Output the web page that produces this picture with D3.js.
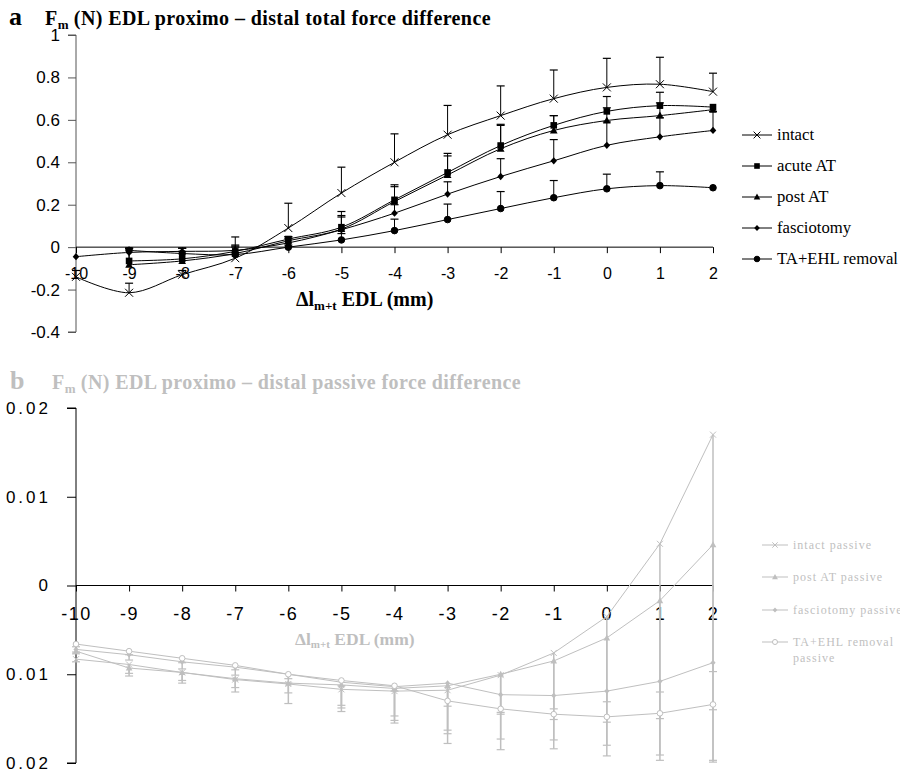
<!DOCTYPE html>
<html>
<head>
<meta charset="utf-8">
<script src="https://cdn.jsdelivr.net/npm/d3@7"></script>
<style>
  html, body { margin: 0; padding: 0; background: #fff; }
  svg { display: block; }
</style>
</head>
<body>
<svg id="chart" width="900" height="775"></svg>
<script>
// ---------- DATA ----------
const xCategories = [-10, -9, -8, -7, -6, -5, -4, -3, -2, -1, 0, 1, 2];
const xTickLabels = ["-10", "-9", "-8", "-7", "-6", "-5", "-4", "-3", "-2", "-1", "0", "1", "2"];

// Panel a: total force difference (N)
const yTicksA = [1, 0.8, 0.6, 0.4, 0.2, 0, -0.2, -0.4];
const yTickLabelsA = ["1", "0.8", "0.6", "0.4", "0.2", "0", "-0.2", "-0.4"];
const seriesNamesA = ["intact", "acute AT", "post AT", "fasciotomy", "TA+EHL removal"];
const intact      = [-0.14, -0.215, -0.13, -0.052, 0.09, 0.255, 0.40, 0.53, 0.62, 0.70, 0.753, 0.768, 0.733];
const intactErr   = [0.03, 0.045, 0.02, 0.10, 0.117, 0.122, 0.134, 0.138, 0.14, 0.135, 0.137, 0.127, 0.087];
const acuteAT     = [null, -0.065, -0.055, -0.02, 0.038, 0.094, 0.223, 0.352, 0.479, 0.574, 0.64, 0.667, 0.66];
const acuteATErr  = [null, 0.06, 0.05, 0.03, 0.01, 0.074, 0.071, 0.09, 0.1, 0.046, 0.07, 0.063, 0];
const postAT      = [null, -0.083, -0.065, -0.03, 0.03, 0.085, 0.215, 0.34, 0.464, 0.55, 0.597, 0.62, 0.648];
const postATErr   = [null, 0.075, 0.06, 0.03, 0.02, 0.064, 0.07, 0.09, 0.11, 0.07, 0.06, 0.06, 0];
const fasciotomy  = [-0.045, -0.025, -0.02, -0.015, 0.02, 0.082, 0.16, 0.25, 0.333, 0.407, 0.48, 0.52, 0.55];
const fasciotomyErr = [0, 0.02, 0.015, 0.02, 0.02, 0.06, 0.04, 0.058, 0.084, 0.1, 0.11, 0.09, 0.09];
const taEhl       = [null, -0.015, -0.03, -0.035, 0.0, 0.034, 0.078, 0.13, 0.182, 0.233, 0.275, 0.29, 0.28];
const taEhlErr    = [null, 0.01, 0.01, 0.01, 0.01, 0.03, 0.054, 0.073, 0.08, 0.081, 0.069, 0.065, 0];

// Panel b: passive force difference (N)
const yTicksB = [0.02, 0.01, 0, -0.01, -0.02];
const yTickLabelsB = ["0.02", "0.01", "0", "0.01", "0.02"];
const seriesNamesB = ["intact passive", "post AT passive", "fasciotomy passive", "TA+EHL removal passive"];
const intactPassive     = [-0.0083, -0.0089, -0.0098, -0.0106, -0.0111, -0.0117, -0.0119, -0.0118, -0.0101, -0.0076, -0.0035, 0.0047, 0.0170];
const intactPassiveErr  = [0.0003, 0.0013, 0.0012, 0.0014, 0.0022, 0.0021, 0.0033, 0.006, 0.0084, 0.0108, 0.0157, 0.0244, 0.0369];
const postATPassive     = [-0.0074, -0.0093, -0.0098, -0.0105, -0.0110, -0.0112, -0.0116, -0.0113, -0.0100, -0.0085, -0.0059, -0.0017, 0.0046];
const postATPassiveErr  = [0.0003, 0.0006, 0.0009, 0.001, 0.0011, 0.0023, 0.0031, 0.0054, 0.0073, 0.0089, 0.0121, 0.0174, 0.0243];
const fasciotomyPassive    = [-0.0072, -0.0078, -0.0086, -0.0092, -0.0100, -0.0109, -0.0114, -0.0110, -0.0123, -0.0124, -0.0119, -0.0108, -0.0087];
const fasciotomyPassiveErr = [0.0003, 0.0006, 0.0008, 0.0009, 0.001, 0.0033, 0.0041, 0.0053, 0.002, 0.0015, 0.0012, 0.0012, 0.001];
const taEhlPassive      = [-0.0066, -0.0074, -0.0082, -0.0090, -0.0100, -0.0107, -0.0113, -0.0130, -0.0139, -0.0145, -0.0148, -0.0144, -0.0134];
const taEhlPassiveErr   = [0.0003, 0.0004, 0.0005, 0.0005, 0.0005, 0.0006, 0.0006, 0.0006, 0.0006, 0.0006, 0.0006, 0.0006, 0.0006];

// ---------- DRAW ----------
const svg = d3.select("#chart");
const serif = "'Liberation Serif', 'Times New Roman', serif";
const sans = "'Liberation Sans', Arial, sans-serif";
const grayB = "#bfbfbf";

const x = d3.scaleLinear().domain([-10, 2]).range([76, 713]);

function marker(g, type, cx, cy, size, color, fillOpen) {
  const s = size;
  if (type === "x") {
    g.append("path").attr("d", `M${cx - s},${cy - s}L${cx + s},${cy + s}M${cx - s},${cy + s}L${cx + s},${cy - s}`)
      .attr("stroke", color).attr("stroke-width", 1).attr("fill", "none");
  } else if (type === "square") {
    g.append("rect").attr("x", cx - s).attr("y", cy - s).attr("width", 2 * s).attr("height", 2 * s).attr("fill", color);
  } else if (type === "triangle") {
    g.append("path").attr("d", `M${cx},${cy - s * 1.15}L${cx + s * 1.1},${cy + s * 0.85}L${cx - s * 1.1},${cy + s * 0.85}Z`).attr("fill", color);
  } else if (type === "diamond") {
    g.append("path").attr("d", `M${cx},${cy - s * 1.1}L${cx + s},${cy}L${cx},${cy + s * 1.1}L${cx - s},${cy}Z`).attr("fill", color);
  } else if (type === "circle") {
    g.append("circle").attr("cx", cx).attr("cy", cy).attr("r", s)
      .attr("fill", fillOpen ? "#fff" : color).attr("stroke", color).attr("stroke-width", 1);
  }
}

// ===== Panel a =====
const yA = d3.scaleLinear().domain([-0.4, 1]).range([332, 35]);
const gA = svg.append("g");

// title a
const tA = gA.append("text").attr("x", 9).attr("y", 25).attr("font-family", serif).attr("font-weight", "bold").attr("fill", "#000");
tA.append("tspan").attr("font-size", 26).text("a");
tA.append("tspan").attr("x", 45).attr("font-size", 20).attr("letter-spacing", "0.4px").text("F");
tA.append("tspan").attr("font-size", 13).attr("dy", 4).text("m");
tA.append("tspan").attr("font-size", 20).attr("letter-spacing", "0.4px").attr("dy", -4).text(" (N) EDL proximo – distal total force difference");

// y axis a
const yAxisA = d3.axisLeft(yA).tickValues(yTicksA).tickSize(8).tickPadding(8)
  .tickFormat((d, i) => yTickLabelsA[i]);
const gyA = gA.append("g").attr("transform", "translate(76,0)").call(yAxisA);
gyA.select(".domain").attr("stroke", "#555").attr("d", `M-8,${yA(1)}H0V${yA(-0.4)}H-8`);
gyA.selectAll(".tick line").attr("stroke", "#555");
gyA.selectAll("text").attr("font-family", sans).attr("font-size", 17).attr("fill", "#000");

// x axis a at y=0
const xAxisA = d3.axisBottom(x).tickValues(xCategories).tickSize(6).tickPadding(14).tickFormat((d, i) => xTickLabels[i]);
const gxA = gA.append("g").attr("transform", `translate(0,${yA(0)})`).call(xAxisA);
gxA.select(".domain").attr("stroke", "#000").attr("d", `M${x(-10)},0H${x(2)}`);
gxA.selectAll(".tick line").attr("stroke", "#000");
gxA.selectAll("text").attr("font-family", sans).attr("font-size", 16).attr("fill", "#000");

// x label a
const xlA = gA.append("text").attr("x", 296).attr("y", 306).attr("font-family", serif).attr("font-weight", "bold").attr("fill", "#000");
xlA.append("tspan").attr("font-size", 20).text("Δl");
xlA.append("tspan").attr("font-size", 13).attr("dy", 4).text("m+t");
xlA.append("tspan").attr("font-size", 20).attr("dy", -4).text(" EDL (mm)");

const seriesA = [
  { name: seriesNamesA[0], vals: intact, err: intactErr, m: "x", s: 4 },
  { name: seriesNamesA[1], vals: acuteAT, err: acuteATErr, m: "square", s: 3.3 },
  { name: seriesNamesA[2], vals: postAT, err: postATErr, m: "triangle", s: 3.5 },
  { name: seriesNamesA[3], vals: fasciotomy, err: fasciotomyErr, m: "diamond", s: 3.3 },
  { name: seriesNamesA[4], vals: taEhl, err: taEhlErr, m: "circle", s: 3.3 }
];

const lineA = d3.line().defined(d => d.v !== null).x(d => x(d.x)).y(d => yA(d.v)).curve(d3.curveCatmullRom.alpha(0.5));

// error bars (upward)
seriesA.forEach(sr => {
  const g = gA.append("g");
  sr.vals.forEach((v, i) => {
    const e = sr.err[i];
    if (v === null || !e) return;
    const cx = x(xCategories[i]);
    g.append("line").attr("x1", cx).attr("x2", cx).attr("y1", yA(v)).attr("y2", yA(v + e)).attr("stroke", "#000").attr("stroke-width", 1);
    g.append("line").attr("x1", cx - 4).attr("x2", cx + 4).attr("y1", yA(v + e)).attr("y2", yA(v + e)).attr("stroke", "#000").attr("stroke-width", 1.2);
  });
});
// lines + markers
seriesA.forEach(sr => {
  const pts = sr.vals.map((v, i) => ({ x: xCategories[i], v }));
  gA.append("path").datum(pts.filter(p => p.v !== null)).attr("d", lineA).attr("fill", "none").attr("stroke", "#000").attr("stroke-width", 1);
  const g = gA.append("g");
  pts.forEach(p => { if (p.v !== null) marker(g, sr.m, x(p.x), yA(p.v), sr.s, "#000"); });
});

// legend a
const legYA = [135, 166, 197, 228, 259];
seriesA.forEach((sr, i) => {
  const g = gA.append("g");
  const ly = legYA[i];
  g.append("line").attr("x1", 742).attr("x2", 772).attr("y1", ly).attr("y2", ly).attr("stroke", "#000").attr("stroke-width", 1);
  marker(g, sr.m, 757, ly, sr.s * 0.85, "#000");
  g.append("text").attr("x", 777).attr("y", ly + 5).attr("font-family", serif).attr("font-size", 16.7).attr("fill", "#000").text(sr.name);
});

// ===== Panel b =====
const yB = d3.scaleLinear().domain([-0.02, 0.02]).range([763, 408]);
const gB = svg.append("g");

const tB = gB.append("text").attr("x", 10).attr("y", 389).attr("font-family", serif).attr("font-weight", "bold").attr("fill", grayB);
tB.append("tspan").attr("font-size", 26).text("b");
tB.append("tspan").attr("x", 52).attr("font-size", 20).attr("letter-spacing", "0.4px").text("F");
tB.append("tspan").attr("font-size", 13).attr("dy", 4).text("m");
tB.append("tspan").attr("font-size", 20).attr("letter-spacing", "0.4px").attr("dy", -4).text(" (N) EDL proximo – distal passive force difference");

// y axis b
const yAxisB = d3.axisLeft(yB).tickValues(yTicksB).tickSize(9).tickPadding(16)
  .tickFormat((d, i) => yTickLabelsB[i]);
const gyB = gB.append("g").attr("transform", "translate(76,0)").call(yAxisB);
gyB.select(".domain").attr("stroke", "#000").attr("d", `M-9,${yB(0.02)}H0V${yB(-0.02)}H-9`);
gyB.selectAll(".tick line").attr("stroke", "#000");
gyB.selectAll("text").attr("font-family", sans).attr("font-size", 17).attr("letter-spacing", "3px").attr("fill", "#000");

// x axis b
const xAxisB = d3.axisBottom(x).tickValues(xCategories).tickSize(6).tickPadding(16).tickFormat((d, i) => xTickLabels[i]);
const gxB = gB.append("g").attr("transform", `translate(0,${yB(0)})`).call(xAxisB);
gxB.select(".domain").attr("stroke", "#000").attr("d", `M${x(-10)},0H${x(2)}`);
gxB.selectAll(".tick line").attr("stroke", "#000");
gxB.selectAll("text").attr("font-family", sans).attr("font-size", 18).attr("letter-spacing", "1.5px").attr("fill", "#000");

// x label b
const xlB = gB.append("text").attr("x", 295).attr("y", 645).attr("font-family", serif).attr("font-weight", "bold").attr("fill", grayB);
xlB.append("tspan").attr("font-size", 17.5).text("Δl");
xlB.append("tspan").attr("font-size", 11).attr("dy", 3).text("m+t");
xlB.append("tspan").attr("font-size", 17.5).attr("dy", -3).text(" EDL (mm)");

const seriesB = [
  { name: seriesNamesB[0], vals: intactPassive, err: intactPassiveErr, m: "x", s: 3 },
  { name: seriesNamesB[1], vals: postATPassive, err: postATPassiveErr, m: "triangle", s: 3 },
  { name: seriesNamesB[2], vals: fasciotomyPassive, err: fasciotomyPassiveErr, m: "diamond", s: 2.6 },
  { name: seriesNamesB[3], vals: taEhlPassive, err: taEhlPassiveErr, m: "circle", s: 2.8, open: true }
];

const lineB = d3.line().x(d => x(d.x)).y(d => yB(d.v));

// error bars (downward)
seriesB.forEach(sr => {
  const g = gB.append("g");
  sr.vals.forEach((v, i) => {
    const e = sr.err[i];
    const cx = x(xCategories[i]);
    g.append("line").attr("x1", cx).attr("x2", cx).attr("y1", yB(v)).attr("y2", yB(v - e)).attr("stroke", grayB).attr("stroke-width", 1.5);
    g.append("line").attr("x1", cx - 4).attr("x2", cx + 4).attr("y1", yB(v - e)).attr("y2", yB(v - e)).attr("stroke", grayB).attr("stroke-width", 1.2);
  });
});
seriesB.forEach(sr => {
  const pts = sr.vals.map((v, i) => ({ x: xCategories[i], v }));
  gB.append("path").datum(pts).attr("d", lineB).attr("fill", "none").attr("stroke", grayB).attr("stroke-width", 1);
  const g = gB.append("g");
  pts.forEach(p => marker(g, sr.m, x(p.x), yB(p.v), sr.s, grayB, sr.open));
});

// legend b
const legYB = [545, 577, 610, 642];
seriesB.forEach((sr, i) => {
  const g = gB.append("g");
  const ly = legYB[i];
  g.append("line").attr("x1", 762).attr("x2", 788).attr("y1", ly).attr("y2", ly).attr("stroke", grayB).attr("stroke-width", 1);
  marker(g, sr.m, 775, ly, sr.s * 0.9, grayB, sr.open);
  const t = g.append("text").attr("x", 793).attr("y", ly + 4).attr("font-family", serif).attr("font-size", 12)
    .attr("letter-spacing", "1px").attr("fill", grayB);
  if (sr.name === "TA+EHL removal passive") {
    t.append("tspan").attr("x", 793).text("TA+EHL removal");
    t.append("tspan").attr("x", 793).attr("dy", 16).text("passive");
  } else {
    t.text(sr.name);
  }
});
</script>
</body>
</html>
